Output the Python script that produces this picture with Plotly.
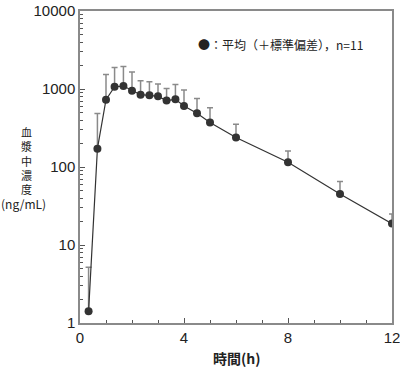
import plotly.graph_objects as go

time_h = [0.33, 0.67, 1.0, 1.33, 1.67, 2.0, 2.33, 2.67, 3.0, 3.33, 3.67, 4.0, 4.5, 5.0, 6.0, 8.0, 10.0, 12.0]
mean_conc = [1.41, 172, 730, 1070, 1090, 950, 845, 830, 805, 710, 738, 607, 489, 371, 239, 115, 45, 18.8]
mean_plus_sd = [5.2, 484, 1535, 1888, 1941, 1648, 1276, 1240, 1158, 1018, 1145, 970, 758, 577, 354, 160, 65, 25]

y_tickvals = [1, 10, 100, 1000, 10000]
y_ticktext = ["1", "10", "100", "1000", "10000"]
x_tickvals = [0, 4, 8, 12]
y_title_chars = ["血", "漿", "中", "濃", "度"]
y_title_unit = "(ng/mL)"

sd_up = [u - m for u, m in zip(mean_plus_sd, mean_conc)]

FONT = "Liberation Sans"
JP = "Noto Sans CJK JP"

fig = go.Figure()
fig.add_trace(go.Scatter(
    x=time_h, y=mean_conc, mode="lines+markers",
    line=dict(color="#333333", width=1.2),
    marker=dict(color="#333333", size=8),
    error_y=dict(type="data", symmetric=False, array=sd_up,
                 arrayminus=[0] * len(sd_up), color="#8a8a8a",
                 thickness=1.5, width=3),
    showlegend=False,
))

axis_common = dict(showline=True, linecolor="#8a8a8a", linewidth=1.5, mirror=True,
                   showgrid=False, zeroline=False, ticks="inside", automargin=False,
                   ticklabeloverflow="allow",
                   tickcolor="#555555", tickfont=dict(family=FONT, size=15, color="#222222"))

fig.update_xaxes(range=[0, 12], tickvals=x_tickvals, ticklen=5,
                 minor=dict(ticks="inside", dtick=1, ticklen=3, tickcolor="#555555"),
                 **axis_common)
fig.update_yaxes(type="log", range=[0, 4], tickvals=y_tickvals, ticktext=y_ticktext,
                 ticklen=5,
                 minor=dict(ticks="inside", ticklen=3, tickcolor="#555555", dtick="D1"),
                 **axis_common)

fig.add_annotation(text="●：平均（＋標準偏差），n=11", xref="paper", yref="paper",
                   x=0.915, y=0.894, xanchor="right", yanchor="middle", showarrow=False,
                   font=dict(family=JP, size=12, color="#222222"))
fig.add_annotation(text="<b>時間(h)</b>", xref="paper", yref="paper", x=0.503, y=0, yshift=-23,
                   xanchor="center", yanchor="top", showarrow=False,
                   font=dict(family=JP, size=14, color="#222222"))
# stacked vertical title (one annotation, line breaks)
fig.add_annotation(text="<br>".join(y_title_chars), xref="paper", yref="paper",
                   x=-0.170, y=(323 - 160) / 312.0,
                   xanchor="center", yanchor="middle", showarrow=False, align="center",
                   font=dict(family=JP, size=11, color="#222222"))
fig.add_annotation(text=y_title_unit, xref="paper", yref="paper",
                   x=-0.181, y=(323 - 203) / 312.0,
                   xanchor="center", yanchor="middle", showarrow=False,
                   font=dict(family=JP, size=12, color="#222222"))

fig.update_layout(width=400, height=370, margin=dict(l=80, r=8, t=11, b=47),
                  plot_bgcolor="white", paper_bgcolor="white")

fig.write_html("out.html", config={"displayModeBar": False},
               post_script="document.body.style.margin='0';")
